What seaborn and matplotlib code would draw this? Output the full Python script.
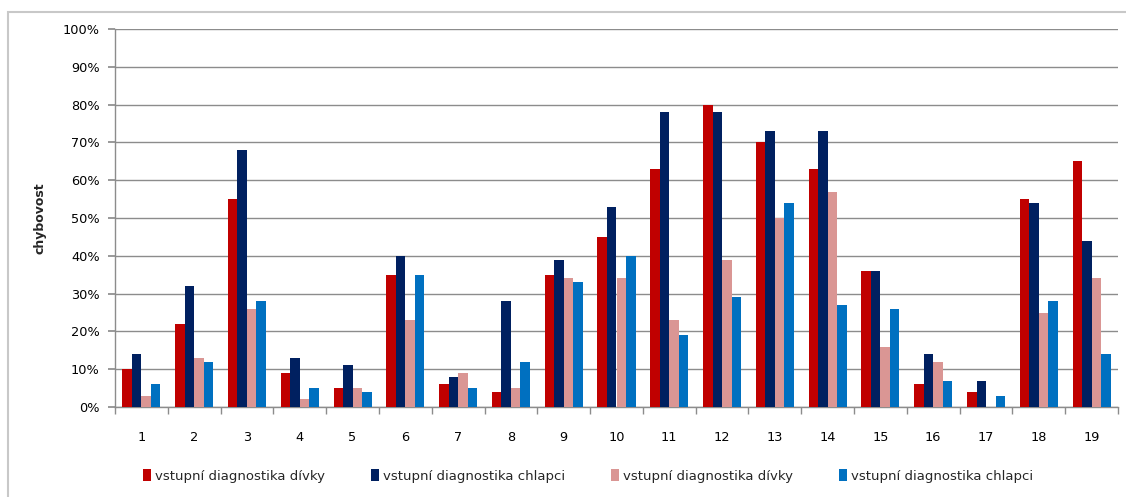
import matplotlib
matplotlib.use("Agg")
import matplotlib.pyplot as plt
from matplotlib.patches import Rectangle, Patch
from matplotlib.ticker import FixedLocator, FuncFormatter
import seaborn as sns
import pandas as pd

# chybovost (%) for tasks 1-19
tasks = [str(i) for i in range(1, 20)]
divky_1 = [10, 22, 55, 9, 5, 35, 6, 4, 35, 45, 63, 80, 70, 63, 36, 6, 4, 55, 65]
chlapci_1 = [14, 32, 68, 13, 11, 40, 8, 28, 39, 53, 78, 78, 73, 73, 36, 14, 7, 54, 44]
divky_2 = [3, 13, 26, 2, 5, 23, 9, 5, 34, 34, 23, 39, 50, 57, 16, 12, 0, 25, 34]
chlapci_2 = [6, 12, 28, 5, 4, 35, 5, 12, 33, 40, 19, 29, 54, 27, 26, 7, 3, 28, 14]

series_labels = ["vstupní diagnostika dívky", "vstupní diagnostika chlapci",
                 "vstupní diagnostika dívky", "vstupní diagnostika chlapci"]
colors = ["#C00000", "#002060", "#DA9694", "#0070C0"]

rows = []
for s, vals in enumerate([divky_1, chlapci_1, divky_2, chlapci_2]):
    for t, v in zip(tasks, vals):
        rows.append({"uloha": t, "rada": s, "hodnota": v})
df = pd.DataFrame(rows)

sns.set_theme(style="white")
plt.rcParams["font.family"] = ["DejaVu Sans"]

W, H = 1126, 497
fig = plt.figure(figsize=(W / 100, H / 100), dpi=100)
ax = fig.add_axes([115 / W, 1 - 407 / H, (1118 - 115) / W, (407 - 29) / H])

sns.barplot(data=df, x="uloha", y="hodnota", hue="rada", order=tasks,
            hue_order=[0, 1, 2, 3], palette=colors, saturation=1, width=0.72,
            gap=0, linewidth=0, legend=False, ax=ax, zorder=3)

ax.set_xlim(-0.5, len(tasks) - 0.5)
ax.set_ylim(0, 100)
ax.yaxis.set_major_locator(FixedLocator(range(0, 101, 10)))
ax.yaxis.set_major_formatter(FuncFormatter(lambda v, p: f"{int(v)}%"))
ax.grid(axis="y", color="#8C8C8C", linewidth=1.0, zorder=0)
ax.set_axisbelow(True)

for side in ["top", "right"]:
    ax.spines[side].set_visible(False)
for side in ["left", "bottom"]:
    ax.spines[side].set_color("#8C8C8C")
    ax.spines[side].set_linewidth(1.0)

ax.tick_params(axis="y", which="major", left=True, length=5, color="#8C8C8C",
               labelsize=9.3, labelcolor="#000000", pad=6)
ax.tick_params(axis="x", which="major", length=0, labelsize=9.3,
               labelcolor="#000000", pad=17)
ax.set_xticks([i - 0.5 for i in range(len(tasks) + 1)], minor=True)
ax.tick_params(axis="x", which="minor", bottom=True, length=5, color="#8C8C8C")

ax.set_xlabel("")
ax.set_ylabel("chybovost", fontsize=9, fontweight="bold", labelpad=12)

handles = [Patch(facecolor=c, edgecolor="none") for c in colors]
fig.legend(handles, series_labels, loc="center", bbox_to_anchor=(588 / W, 1 - 476 / H),
           ncol=4, frameon=False, fontsize=9.5, handlelength=0.6, handleheight=1.0,
           handletextpad=0.3, columnspacing=3.5)

# outer chart frame
fig.patches.append(Rectangle((8 / W, -0.05), 1.2, 1 - 12 / H + 0.05,
                             transform=fig.transFigure, fill=False,
                             edgecolor="#C8C8C8", linewidth=1.5))

fig.savefig("out.png", dpi=100)
